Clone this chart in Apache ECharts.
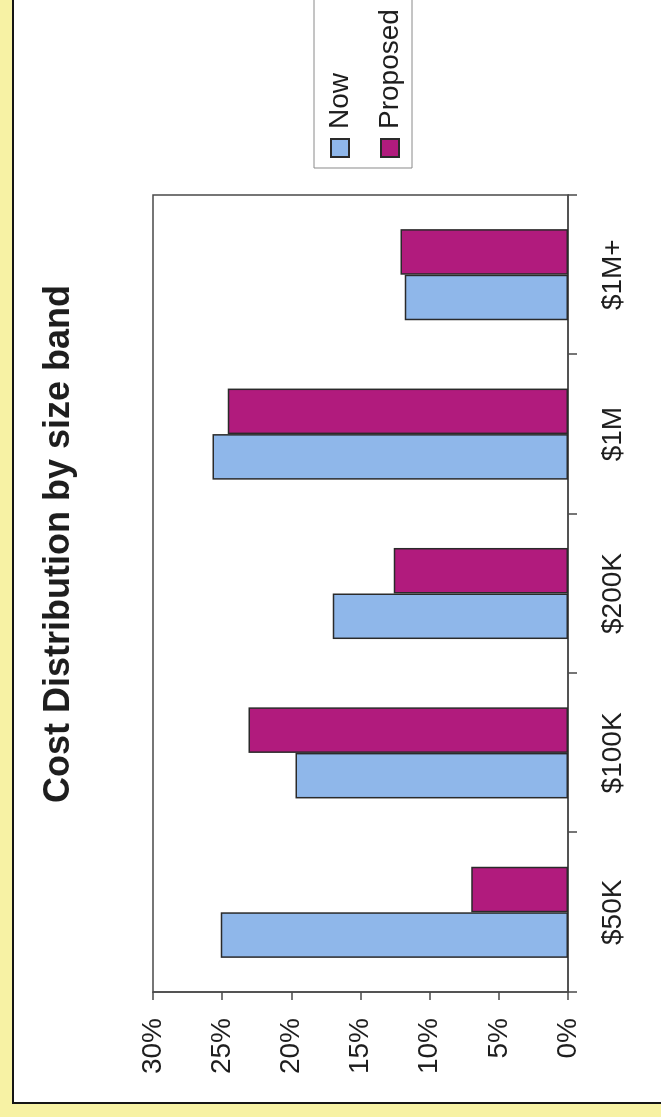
<!DOCTYPE html>
<html>
<head>
<meta charset="utf-8">
<script src="https://cdn.jsdelivr.net/npm/echarts@6/dist/echarts.min.js"></script>
<style>
  html, body { margin: 0; padding: 0; width: 661px; height: 1117px; overflow: hidden; background: #f7f2a4; }
  /* The chart is laid out landscape and turned a quarter turn anticlockwise. */
  #chart {
    position: absolute; left: 0; top: 0;
    width: 1130px; height: 661px;
    transform-origin: 0 0;
    transform: translate(0, 1117px) rotate(-90deg);
  }
</style>
</head>
<body>
<div id="chart"></div>
<script>
// Size bands and the share of cost in each (percent)
const categories = ['$50K', '$100K', '$200K', '$1M', '$1M+'];
const nowValues = [25.1, 19.7, 17.0, 25.7, 11.8];
const proposedValues = [7.0, 23.1, 12.6, 24.6, 12.1];
const seriesNames = ['Now', 'Proposed'];
const titleText = 'Cost Distribution by size band';

const FONT = '"Liberation Sans", Arial, sans-serif';
const TEXT = '#1e1e1e';

const chart = echarts.init(document.getElementById('chart'), null, { renderer: 'canvas' });

chart.setOption({
  backgroundColor: '#f7f2a4',
  animation: false,
  textStyle: { fontFamily: FONT, color: TEXT },
  graphic: [{
    type: 'rect',
    z: -10,
    silent: true,
    shape: { x: 14, y: 13, width: 2000, height: 2000 },
    style: { fill: '#ffffff', stroke: '#151515', lineWidth: 2 }
  }],
  title: {
    text: titleText,
    left: 314,
    top: 41,
    padding: 0,
    textStyle: { fontFamily: FONT, fontSize: 36, fontWeight: 'bold', color: TEXT }
  },
  legend: {
    orient: 'vertical',
    left: 949,
    top: 314,
    padding: [10, 10, 6, 10],
    itemWidth: 18,
    itemHeight: 18,
    itemGap: 18,
    icon: 'rect',
    borderColor: '#8a8a8a',
    borderWidth: 1,
    data: seriesNames,
    textStyle: { fontFamily: FONT, fontSize: 28, color: TEXT, lineHeight: 32, padding: [0, 0, 0, 5] }
  },
  grid: {
    left: 125, right: 208, top: 153, bottom: 93,
    show: true,
    borderColor: '#4a4a4a',
    borderWidth: 1.5,
    backgroundColor: '#ffffff'
  },
  xAxis: {
    type: 'category',
    data: categories,
    boundaryGap: true,
    axisLine: { show: true, lineStyle: { color: '#4a4a4a', width: 1.5 } },
    axisTick: { show: true, length: 9, alignWithLabel: false, lineStyle: { color: '#4a4a4a', width: 1.5 } },
    axisLabel: { fontFamily: FONT, fontSize: 28, color: TEXT, margin: 31 },
    splitLine: { show: false }
  },
  yAxis: {
    type: 'value',
    min: 0,
    max: 30,
    interval: 5,
    axisLine: { show: true, lineStyle: { color: '#4a4a4a', width: 1.5 } },
    axisTick: { show: true, length: 8, lineStyle: { color: '#4a4a4a', width: 1.5 } },
    axisLabel: { fontFamily: FONT, fontSize: 28, color: TEXT, margin: 26, formatter: '{value}%' },
    splitLine: { show: false }
  },
  series: [
    {
      name: seriesNames[0],
      type: 'bar',
      data: nowValues,
      barGap: '0%',
      barCategoryGap: '42.86%',
      itemStyle: { color: '#8fb7ea', borderColor: '#2a2a2a', borderWidth: 1.5 }
    },
    {
      name: seriesNames[1],
      type: 'bar',
      data: proposedValues,
      barGap: '0%',
      barCategoryGap: '42.86%',
      itemStyle: { color: '#b11b7d', borderColor: '#2a2a2a', borderWidth: 1.5 }
    }
  ]
});
</script>
</body>
</html>
